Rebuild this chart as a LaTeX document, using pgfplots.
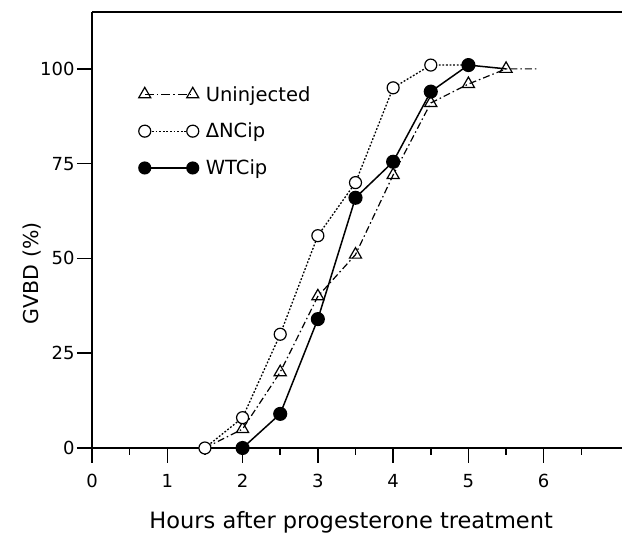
\documentclass[border=0pt]{standalone}
\usepackage{fontspec}
\setmainfont{DejaVu Sans}
\usepackage{pgfplots}
\pgfplotsset{compat=1.18}
\begin{document}
\begin{tikzpicture}
\pgfplotsset{set layers}
\begin{axis}[
 at={(0,0)}, anchor=south west,
 scale only axis, width=530bp, height=436bp,
 xmin=0, xmax=7.04, ymin=0, ymax=115,
 axis x line=box, axis y line=left,
 y axis line style={-},
 axis line style={line width=2bp},
 xtick={0,...,6}, minor xtick={0.5,1.5,...,6.5},
 ytick={0,25,50,75,100},
 xtick pos=left, ytick pos=left,
 tick align=outside,
 major tick length=15bp, minor tick length=7bp,
 tick style={black, line width=1.5bp},
 /pgf/number format/assume math mode=true,
 ticklabel style={font=\fontsize{18bp}{22bp}\selectfont},
 xticklabel style={yshift=-8bp},
 yticklabel style={xshift=1bp},
 xlabel={Hours after progesterone treatment},
 ylabel={GVBD (\%)},
 xlabel style={font=\fontsize{22.5bp}{26bp}\selectfont, at={(axis description cs:0.489,-0.1835)}, anchor=base},
 ylabel style={font=\fontsize{20.5bp}{24bp}\selectfont, at={(axis description cs:-0.1132,0.401)}, anchor=center},
 clip=false,
 legend style={draw=none, fill=none, at={(rel axis cs:0,1)}, anchor=north west, xshift=46.5bp, yshift=-74bp,
   font=\fontsize{19.5bp}{23bp}\selectfont, row sep=20.5bp, inner sep=0pt,
   nodes={inner sep=0pt},
   /tikz/every odd column/.append style={column sep=7bp}},
 legend cell align=left,
 legend image code/.code={\draw[#1, mark indices={1,2}] plot coordinates {(0bp,0bp) (48bp,0bp)};},
]
\addplot[black, line width=1.2bp, dash pattern=on 7bp off 3bp on 1.5bp off 3bp,
  mark=triangle, mark size=7bp, mark options={solid, fill=white, line width=1.2bp},
  mark indices={2,...,9}, mark layer=axis foreground,
  legend image post style={dash pattern=on 9bp off 3bp on 1.5bp off 3bp}]
  coordinates {(1.5,0)(2,5)(2.5,20)(3,40)(3.5,51)(4,72)(4.5,91)(5,96)(5.5,100)(5.94,100)};
\addlegendentry{Uninjected}
\addplot[black, line width=1.3bp, dash pattern=on 1.8bp off 1.8bp,
  mark=*, mark size=6bp, mark options={solid, fill=white, line width=1.2bp},
  mark indices={1,...,7}, mark layer=axis foreground,
  legend image post style={mark size=6bp}]
  coordinates {(1.5,0)(2,8)(2.5,30)(3,56)(3.5,70)(4,95)(4.5,101)(5,101)};
\addlegendentry{ΔNCip}
\addplot[black, line width=1.5bp,
  mark=*, mark size=6.3bp, mark options={solid, fill=black},
  mark indices={1,...,7}, mark layer=axis foreground,
  legend image post style={mark size=5.8bp}]
  coordinates {(2,0)(2.5,9)(3,34)(3.5,66)(4,75.5)(4.5,94)(5,101)(5.5,100)};
\addlegendentry{WTCip}
\end{axis}
\pgfresetboundingbox
\path[use as bounding box] (-92bp,-86bp) rectangle (531bp,448bp);
\end{tikzpicture}
\end{document}
